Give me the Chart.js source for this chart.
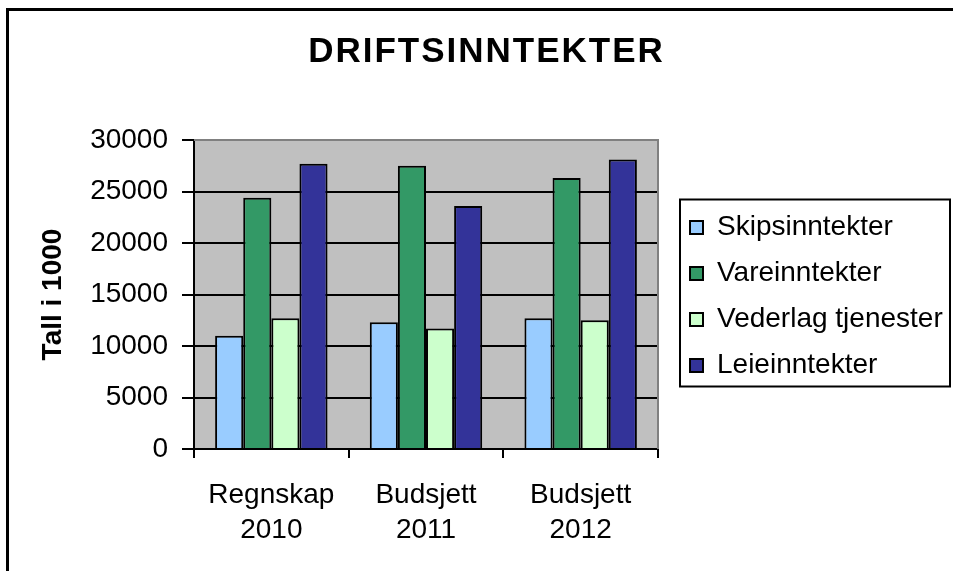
<!DOCTYPE html>
<html>
<head>
<meta charset="utf-8">
<script src="https://cdn.jsdelivr.net/npm/chart.js@4"></script>
<style>
    html, body { margin: 0; padding: 0; background: #fff; }
    #wrap { position: relative; width: 953px; height: 571px; overflow: hidden; }
    #frame { position: absolute; left: 6px; top: 8px; width: 1000px; height: 700px; border: 3px solid #000; box-sizing: border-box; }
    canvas { position: absolute; left: 0; top: 0; }
</style>
</head>
<body>
<div id="wrap">
    <div id="frame"></div>
    <canvas id="chart" width="953" height="571"></canvas>
</div>
<script>
// Data
const categories = [['Regnskap', '2010'], ['Budsjett', '2011'], ['Budsjett', '2012']];
const seriesNames = ['Skipsinntekter', 'Vareinntekter', 'Vederlag tjenester', 'Leieinntekter'];
const skipsinntekter = [11000, 12300, 12700];
const vareinntekter = [24400, 27500, 26300];
const vederlagTjenester = [12700, 11700, 12500];
const leieinntekter = [27700, 23600, 28100];
const yTicks = [0, 5000, 10000, 15000, 20000, 25000, 30000];

const colors = ['#99CCFF', '#339966', '#CCFFCC', '#333399'];
const font = "'Liberation Sans', Arial, sans-serif";

// gray plot area + gray frame on top/right, legend box
const plotBox = {
    id: 'plotBox',
    beforeLayout(chart) {
        const lg = chart.legend;
        if (lg && !lg._fixed) {
            const fit = lg.fit;
            lg.fit = function() { fit.call(this); this.width = 295; };
            lg._fixed = true;
        }
    },
    afterLayout(chart) {
        // move legend a bit away from the plot
        chart.legend.left += 14;
        chart.legend.right += 14;
        chart.legend.top += 11;
        chart.legend.bottom += 11;
    },
    beforeDraw(chart) {
        const a = chart.chartArea;
        const ctx = chart.ctx;
        ctx.save();
        ctx.fillStyle = '#C0C0C0';
        ctx.fillRect(a.left, a.top, a.right - a.left, a.bottom - a.top);
        ctx.restore();
    },
    beforeDatasetsDraw(chart) {
        const a = chart.chartArea;
        const ctx = chart.ctx;
        ctx.save();
        ctx.strokeStyle = '#808080';
        ctx.lineWidth = 2;
        ctx.beginPath();
        ctx.moveTo(a.left, a.top);
        ctx.lineTo(a.right, a.top);
        ctx.lineTo(a.right, a.bottom);
        ctx.stroke();
        ctx.restore();
    },
    afterDraw(chart) {
        const boxes = chart.legend.legendHitBoxes;
        if (!boxes || !boxes.length) return;
        const first = boxes[0];
        const last = boxes[boxes.length - 1];
        const ctx = chart.ctx;
        ctx.save();
        ctx.strokeStyle = '#000';
        ctx.lineWidth = 2;
        ctx.strokeRect(first.left - 10, first.top - 14, 270, last.top + last.height + 21 - first.top);
        ctx.restore();
    }
};

const ctx = document.getElementById('chart').getContext('2d');
const chart = new Chart(ctx, {
    type: 'bar',
    data: {
        labels: categories,
        datasets: [skipsinntekter, vareinntekter, vederlagTjenester, leieinntekter].map((vals, i) => ({
            label: seriesNames[i],
            data: vals,
            backgroundColor: colors[i],
            borderColor: '#000',
            borderWidth: 2,
            categoryPercentage: 0.727,
            barPercentage: 1.0
        }))
    },
    options: {
        responsive: false,
        animation: false,
        layout: { padding: { left: 20, top: 0, right: 0, bottom: 0 } },
        plugins: {
            title: {
                display: true,
                text: 'DRIFTSINNTEKTER',
                color: '#000',
                font: { family: font, size: 35, weight: 'bold', lineHeight: 1.2 },
                padding: { top: 31, bottom: 67 }
            },
            legend: {
                position: 'right',
                labels: {
                    color: '#000',
                    font: { family: font, size: 28 },
                    boxWidth: 13,
                    boxHeight: 13,
                    padding: 18
                }
            },
            tooltip: { enabled: false }
        },
        scales: {
            x: {
                grid: { drawOnChartArea: false, drawTicks: true, tickLength: 9, color: '#000', lineWidth: 2 },
                border: { color: '#000', width: 2 },
                ticks: { color: '#000', font: { family: font, size: 28, lineHeight: 1.25 }, padding: 20, maxRotation: 0 },
                afterFit(scale) { scale.height = 122; }
            },
            y: {
                min: 0,
                max: 30000,
                afterBuildTicks(scale) { scale.ticks = yTicks.map(v => ({ value: v })); },
                grid: { color: '#000', lineWidth: 2, tickLength: 12 },
                border: { color: '#000', width: 2 },
                ticks: { color: '#000', font: { family: font, size: 28 }, padding: 14, callback: v => String(v) },
                title: {
                    display: true,
                    text: 'Tall i 1000',
                    color: '#000',
                    font: { family: font, size: 28, weight: 'bold', lineHeight: 1.2 },
                    padding: { top: 16, bottom: 0 }
                },
                afterFit(scale) { scale.width = 174; }
            }
        }
    },
    plugins: [plotBox]
});

// a little letter spacing on the title, like the original
const titleDraw = chart.titleBlock.draw;
chart.titleBlock.draw = function() {
    chart.ctx.save();
    chart.ctx.letterSpacing = '2px';
    titleDraw.call(this);
    chart.ctx.restore();
};
chart.draw();
</script>
</body>
</html>
